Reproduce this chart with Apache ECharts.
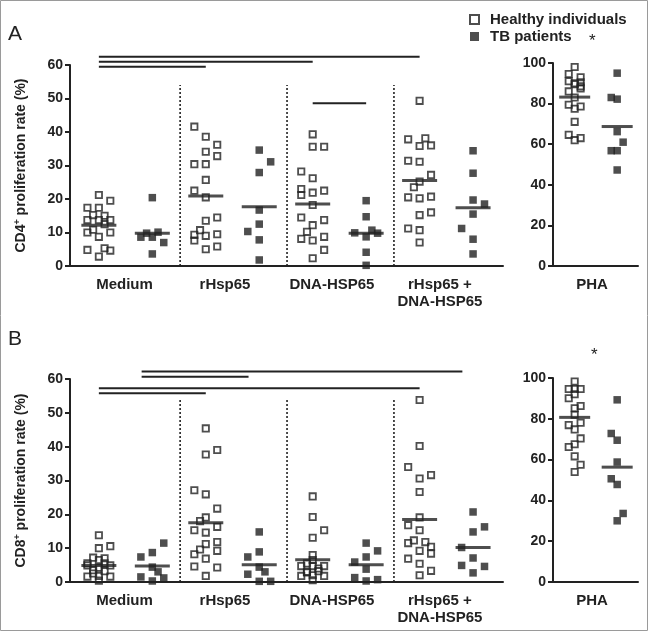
<!DOCTYPE html>
<html>
<head>
<meta charset="utf-8">
<script src="https://cdn.jsdelivr.net/npm/echarts@6/dist/echarts.min.js"></script>
<style>
html,body{margin:0;padding:0;background:#fff;}
#chart{width:649px;height:632px;}
</style>
</head>
<body>
<div id="chart"></div>
<script>
// ---------- DATA ----------
const groups = ['Medium', 'rHsp65', 'DNA-HSP65', 'rHsp65 +\nDNA-HSP65'];
const phaGroup = ['PHA'];
const mainTicks = [0, 10, 20, 30, 40, 50, 60];
const phaTicks = [0, 20, 40, 60, 80, 100];
const seriesNames = ['Healthy individuals', 'TB patients'];

// Panel A (CD4+) values per group (Medium, rHsp65, DNA-HSP65, rHsp65 + DNA-HSP65)
const cd4HealthyVals = [
  [21.2, 19.5, 17.4, 17.4, 15.2, 15.0, 13.7, 13.7, 13.7, 12.5, 10.8, 10.0, 10.0, 8.7, 4.8, 5.3, 4.6, 2.8],
  [41.6, 38.6, 36.2, 34.1, 32.8, 30.4, 30.4, 25.7, 22.5, 20.5, 13.5, 14.5, 10.7, 9.3, 7.6, 9.0, 9.5, 5.0, 5.8],
  [39.3, 35.6, 35.6, 28.2, 26.2, 23.0, 21.2, 21.9, 22.5, 18.2, 14.5, 13.7, 12.2, 10.2, 8.1, 7.6, 8.7, 4.8, 2.3],
  [49.3, 37.8, 38.1, 35.8, 36.0, 31.4, 31.1, 27.2, 25.2, 23.5, 20.5, 20.2, 20.7, 15.2, 16.0, 11.2, 10.7, 7.0]
];
const cd4HealthyCols = [
  [0, 2, -2, 0, -1, 1, -2, 0, 2, 1, -1, -2, 2, 0, -2, 1, 2, 0],
  [-2, 0, 2, 0, 2, -2, 0, 0, -2, 0, 0, 2, -1, -2, -2, 0, 2, 0, 2],
  [0, 0, 2, -2, 0, -2, -2, 0, 2, 0, -2, 2, 0, -1, -2, 0, 2, 2, 0],
  [0, -2, 1, 0, 2, -2, 0, 2, 0, -1, -2, 0, 2, 0, 2, -2, 0, 0]
];
const cd4TbVals = [
  [20.4, 8.6, 9.8, 8.6, 10.1, 7.0, 3.6],
  [34.6, 31.1, 27.9, 16.7, 12.5, 10.3, 7.8, 1.8],
  [19.5, 14.7, 9.9, 8.7, 10.7, 9.8, 4.1, 0.2],
  [34.4, 27.7, 19.7, 18.5, 15.5, 11.2, 8.0, 3.6]
];
const cd4TbCols = [
  [0, -2, -1, 0, 1, 2, 0],
  [0, 2, 0, 0, 0, -2, 0, 0],
  [0, 0, -2, 0, 1, 2, 0, 0],
  [0, 0, 0, 2, 0, -2, 0, 0]
];
const cd4HealthyMeans = [12.2, 20.9, 18.5, 25.5];
const cd4TbMeans = [9.8, 17.7, 9.8, 17.4];

const cd4PhaHealthy = [98, 94.6, 93, 91, 90.5, 89.5, 90, 88.5, 86, 87.5, 83, 79.4, 78.6, 77.5, 71, 64.6, 62, 63];
const cd4PhaHealthyCols = [0, -1, 1, -1, 1, 0, 0, 1, -1, 1, 0, -1, 1, 0, 0, -1, 0, 1];
const cd4PhaTb = [95, 83, 82.2, 66.2, 61, 56.8, 56.8, 47.3];
const cd4PhaTbCols = [0, -1, 0, 0, 1, -1, 0, 0];
const cd4PhaMeans = [83.2, 68.7];

// Panel B (CD8+)
const cd8HealthyVals = [
  [13.8, 10.0, 10.6, 7.2, 7.0, 6.5, 5.5, 4.9, 4.9, 4.2, 3.5, 3.2, 1.6, 1.8, 1.6, 0.4, 2.5, 5.5],
  [45.4, 37.7, 39.0, 27.1, 25.9, 21.7, 19.1, 18.0, 15.3, 14.6, 16.3, 11.2, 11.8, 9.6, 9.2, 8.2, 6.9, 4.6, 4.3, 1.8],
  [25.3, 19.2, 15.3, 13.1, 8.0, 4.7, 4.7, 4.7, 5.5, 4.0, 1.8, 2.0, 1.8, 0.5, 3.0, 3.2, 6.5, 2.8],
  [53.8, 40.2, 34.0, 31.6, 30.6, 26.6, 19.1, 16.8, 15.3, 12.3, 11.5, 11.8, 10.4, 9.2, 8.4, 6.9, 5.4, 3.3, 2.0]
];
const cd8HealthyCols = [
  [0, 0, 2, -1, 1, 0, -2, -2, 2, 0, -1, 1, -2, 0, 2, 0, -1, 1],
  [0, 0, 2, -2, 0, 2, 0, -1, -2, 0, 2, 0, 2, -1, 2, -2, 0, -2, 2, 0],
  [0, 0, 2, 0, 0, -2, 0, 2, -1, 1, -2, 0, 2, 0, -1, 1, 0, -1],
  [0, 0, -2, 2, 0, 0, 0, -2, 0, -1, -2, 1, 2, 0, 2, -2, 0, 2, 0]
];
const cd8TbVals = [
  [7.4, 8.7, 11.5, 4.4, 3.0, 1.5, 1.2, 0.3],
  [14.8, 8.9, 7.4, 4.4, 3.0, 2.3, 0.2, 0.2],
  [11.5, 9.2, 7.4, 5.9, 3.8, 1.3, 0.3, 0.7],
  [20.7, 14.8, 16.3, 10.2, 7.1, 4.9, 4.6, 2.7]
];
const cd8TbCols = [
  [-2, 0, 2, 0, 1, -2, 2, 0],
  [0, 0, -2, 0, 1, -2, 0, 2],
  [0, 2, 0, -2, 0, -2, 0, 2],
  [0, 0, 2, -2, 0, -2, 2, 0]
];
const cd8HealthyMeans = [4.9, 17.5, 6.6, 18.5];
const cd8TbMeans = [4.7, 5.1, 5.1, 10.2];

const cd8PhaHealthy = [98.3, 94.6, 94.6, 94.6, 92, 90.1, 86.3, 85.2, 82, 76.9, 78.1, 74.8, 70.4, 66.2, 67.5, 61.6, 57.5, 53.9];
const cd8PhaHealthyCols = [0, -1, 0, 1, 0, -1, 1, 0, 0, -1, 1, 0, 1, -1, 0, 0, 1, 0];
const cd8PhaTb = [89.3, 72.8, 69.5, 58.8, 50.6, 47.8, 33.6, 30.0];
const cd8PhaTbCols = [0, -1, 0, 0, -1, 0, 1, 0];
const cd8PhaMeans = [80.7, 56.3];

// Significance comparisons: [fromGroup, fromPop(0=healthy,1=TB), toGroup, toPop, level]
const cd4Comparisons = [[0, 0, 3, 0, 3], [0, 0, 2, 0, 2], [0, 0, 1, 0, 1], [2, 0, 2, 1, 0]];
const cd8Comparisons = [[0, 1, 3, 1, 3], [0, 1, 1, 1, 2], [0, 0, 3, 0, 1], [0, 0, 1, 0, 0]];

// ---------- LAYOUT ----------
const INK = '#222';
const FONT = 'Liberation Sans, Arial, sans-serif';
const H_OFF = 0.27, T_OFF = 0.77, STEP_MAIN = 0.0535;
const P_H = 0.255, P_T = 0.755, STEP_PHA = 0.07;
const X_MAX = 4.05;
const MAIN_LABEL_POS = [0.51, 1.45, 2.45, 3.46];
const PHA_LABEL_POS = [0.46];

function spread(center, vals, cols, step) {
  return vals.map((v, i) => [center + cols[i] * step, v]);
}
function labelAt(positions, names) {
  return function (v) {
    for (let i = 0; i < positions.length; i++) {
      if (Math.abs(positions[i] - v) < 1e-6) return names[i];
    }
    return '';
  };
}

const grids = [
  {left: 70, top: 65, width: 433, height: 201},
  {left: 553, top: 63, width: 85, height: 203},
  {left: 70, top: 379, width: 433, height: 203},
  {left: 553, top: 378, width: 85, height: 204}
];

const labelStyle = {color: INK, fontWeight: 'bold', fontFamily: FONT};

function xAxisFor(gi, max, positions, names) {
  return {
    type: 'value', gridIndex: gi, min: 0, max: max,
    axisLine: {show: true, onZero: false, lineStyle: {color: INK, width: 2}},
    axisTick: {show: false}, splitLine: {show: false},
    axisLabel: Object.assign({}, labelStyle, {
      show: true, fontSize: 15, margin: 10, lineHeight: 17,
      showMinLabel: true, showMaxLabel: true, hideOverlap: false,
      customValues: positions,
      formatter: labelAt(positions, names)
    })
  };
}
function yAxis(gi, ticks, name) {
  return {
    type: 'value', gridIndex: gi, min: ticks[0], max: ticks[ticks.length - 1],
    interval: ticks[1] - ticks[0],
    axisLine: {show: true, lineStyle: {color: INK, width: 2}},
    axisTick: {show: true, length: 5, lineStyle: {color: INK, width: 2}},
    splitLine: {show: false},
    axisLabel: Object.assign({}, labelStyle, {fontSize: 14, margin: 7}),
    name: name || '', nameLocation: 'middle', nameGap: 40,
    nameTextStyle: Object.assign({}, labelStyle, {
      fontSize: 14,
      rich: {sup: {fontSize: 9, fontWeight: 'bold', color: INK, verticalAlign: 'top', padding: [0, 0, 8, 0], fontFamily: FONT}}
    })
  };
}

const series = [];
function addScatter(gi, name, data, hollow) {
  series.push({
    type: 'scatter', name: name, xAxisIndex: gi, yAxisIndex: gi,
    symbol: 'rect', symbolSize: hollow ? 6.3 : 7.5, data: data, z: 3,
    itemStyle: hollow ? {color: 'rgba(255,255,255,0)', borderColor: INK, borderWidth: 1.8}
                      : {color: INK, borderWidth: 0}
  });
}
function addMeans(gi, data, w) {
  series.push({
    type: 'scatter', xAxisIndex: gi, yAxisIndex: gi, symbol: 'rect',
    symbolSize: [w, 3], data: data, z: 5, itemStyle: {color: INK}, silent: true
  });
}
function addLine(gi, data, style) {
  series.push({
    type: 'line', xAxisIndex: gi, yAxisIndex: gi, data: data, clip: false,
    symbol: 'none', lineStyle: style, z: 4, silent: true
  });
}

function buildMain(gi, hVals, hCols, tVals, tCols, hMeans, tMeans, comps, levels, tbShift) {
  const hData = [], tData = [];
  for (let g = 0; g < groups.length; g++) {
    hData.push(...spread(g + H_OFF, hVals[g], hCols[g], STEP_MAIN));
    tData.push(...spread(g + T_OFF, tVals[g], tCols[g], STEP_MAIN));
  }
  addScatter(gi, seriesNames[0], hData, true);
  addScatter(gi, seriesNames[1], tData, false);
  addMeans(gi, hMeans.map((m, g) => [g + H_OFF, m]), 35);
  addMeans(gi, tMeans.map((m, g) => [g + T_OFF, m]), 35);
  for (let g = 1; g < groups.length; g++) {
    addLine(gi, [[g + 0.03, 0], [g + 0.03, 54]], {color: INK, width: 1.6, type: [2, 2]});
  }
  comps.forEach(c => {
    const x1 = c[0] + (c[1] ? T_OFF + tbShift : H_OFF);
    const x2 = c[2] + (c[3] ? T_OFF + tbShift : H_OFF);
    const y = levels[c[4]];
    addLine(gi, [[x1, y], [x2, y]], {color: INK, width: 2});
  });
}
function buildPha(gi, hVals, hCols, tVals, tCols, means) {
  addScatter(gi, seriesNames[0], spread(P_H, hVals, hCols, STEP_PHA), true);
  addScatter(gi, seriesNames[1], spread(P_T, tVals, tCols, STEP_PHA), false);
  addMeans(gi, [[P_H, means[0]], [P_T, means[1]]], 31);
}

buildMain(0, cd4HealthyVals, cd4HealthyCols, cd4TbVals, cd4TbCols, cd4HealthyMeans, cd4TbMeans,
  cd4Comparisons, [48.6, 59.5, 61.0, 62.5], 0);
buildPha(1, cd4PhaHealthy, cd4PhaHealthyCols, cd4PhaTb, cd4PhaTbCols, cd4PhaMeans);
buildMain(2, cd8HealthyVals, cd8HealthyCols, cd8TbVals, cd8TbCols, cd8HealthyMeans, cd8TbMeans,
  cd8Comparisons, [55.8, 57.25, 60.7, 62.2], -0.1);
buildPha(3, cd8PhaHealthy, cd8PhaHealthyCols, cd8PhaTb, cd8PhaTbCols, cd8PhaMeans);

const chart = echarts.init(document.getElementById('chart'), null, {renderer: 'canvas'});
chart.setOption({
  animation: false,
  backgroundColor: '#fff',
  grid: grids.map(g => Object.assign({outerBoundsMode: 'none', containLabel: false}, g)),
  xAxis: [
    xAxisFor(0, X_MAX, MAIN_LABEL_POS, groups),
    xAxisFor(1, 1, PHA_LABEL_POS, phaGroup),
    xAxisFor(2, X_MAX, MAIN_LABEL_POS, groups),
    xAxisFor(3, 1, PHA_LABEL_POS, phaGroup)
  ],
  yAxis: [
    yAxis(0, mainTicks, 'CD4{sup|+} proliferation rate (%)'),
    yAxis(1, phaTicks),
    yAxis(2, mainTicks, 'CD8{sup|+} proliferation rate (%)'),
    yAxis(3, phaTicks)
  ],
  legend: {
    data: seriesNames, orient: 'vertical', left: 464, top: 7,
    itemWidth: 9, itemHeight: 9, itemGap: 2, selectedMode: false,
    textStyle: Object.assign({}, labelStyle, {fontSize: 15, padding: [0, 0, 0, 6]})
  },
  graphic: [
    {type: 'rect', shape: {x: 0.5, y: 0.5, width: 647, height: 630}, style: {fill: 'none', stroke: '#9a9a9a', lineWidth: 1}, silent: true},
    {type: 'text', left: 8, top: 24, style: {text: 'A', fontSize: 21, fill: INK, fontFamily: FONT}},
    {type: 'text', left: 8, top: 329, style: {text: 'B', fontSize: 21, fill: INK, fontFamily: FONT}},
    {type: 'text', left: 589, top: 33, style: {text: '*', fontSize: 17, fill: INK, fontFamily: FONT}},
    {type: 'text', left: 591, top: 347, style: {text: '*', fontSize: 17, fill: INK, fontFamily: FONT}}
  ],
  series: series
});
</script>
</body>
</html>
